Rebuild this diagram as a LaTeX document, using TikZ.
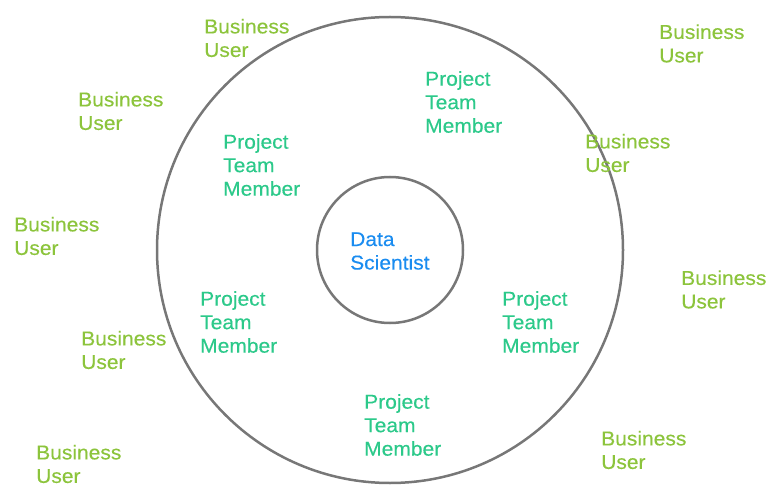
\documentclass[tikz,border=0pt]{standalone}
\usepackage{fontspec}
\setmainfont[FakeStretch=1.05,FakeBold=0.3]{Liberation Sans}
\definecolor{bizgreen}{HTML}{8CC43C}
\definecolor{teamgreen}{HTML}{2CC98A}
\definecolor{dsblue}{HTML}{1A8CF0}
\definecolor{ringgray}{HTML}{777777}
\begin{document}
\begin{tikzpicture}[x=1pt,y=-1pt,
  lbl/.style={anchor=west,align=left,inner sep=0pt,font=\fontsize{20}{23.5}\selectfont},
  biz/.style={lbl,text=bizgreen},
  team/.style={lbl,text=teamgreen},
  ds/.style={lbl,text=dsblue},
  ring/.style={draw=ringgray,line width=2.5pt,fill=none}]
\useasboundingbox (0,0) rectangle (780,500);
\node[ring,circle,minimum size=466pt,inner sep=0pt] (outer) at (390,250) {};
\node[ring,circle,minimum size=146pt,inner sep=0pt] (inner) at (390,250) {};
\node[ds] (dsc) at (350,251) {Data\\Scientist};
\node[team] (t1) at (425,102) {Project\\Team\\Member};
\node[team] (t2) at (223,165) {Project\\Team\\Member};
\node[team] (t3) at (200,322) {Project\\Team\\Member};
\node[team] (t4) at (502,322) {Project\\Team\\Member};
\node[team] (t5) at (364,425) {Project\\Team\\Member};
\node[biz] (b1) at (204,38) {Business\\User};
\node[biz] (b2) at (78,111) {Business\\User};
\node[biz] (b3) at (14,236) {Business\\User};
\node[biz] (b4) at (81,350) {Business\\User};
\node[biz] (b5) at (36,464) {Business\\User};
\node[biz] (b6) at (659,43.5) {Business\\User};
\node[biz] (b7) at (585,153) {Business\\User};
\node[biz] (b8) at (681,289.5) {Business\\User};
\node[biz] (b9) at (601,450) {Business\\User};
\end{tikzpicture}
\end{document}
